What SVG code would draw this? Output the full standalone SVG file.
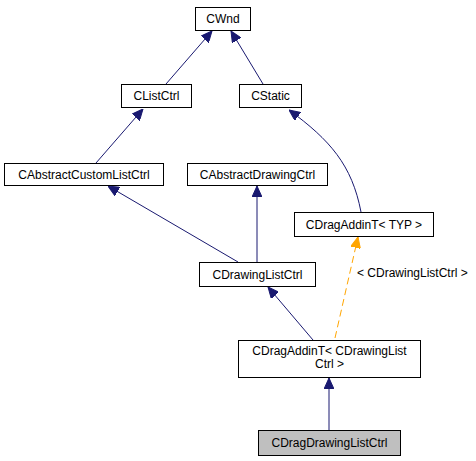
<svg xmlns="http://www.w3.org/2000/svg" width="476" height="461" viewBox="0 0 476 461">
<style>
.n rect{fill:#ffffff;stroke:#000000;stroke-width:1}
.n.cur rect{fill:#bfbfbf}
text{font-family:"Liberation Sans",Arial,sans-serif;font-size:12px;fill:#000000;text-anchor:middle}
.e{fill:none;stroke:#191970;stroke-width:1;marker-end:url(#ah)}
.t{fill:none;stroke:#ffa500;stroke-width:1;stroke-dasharray:7,4;marker-end:url(#ao)}
.lbl{text-anchor:start}
</style>
<defs>
<marker id="ah" markerUnits="userSpaceOnUse" markerWidth="11" markerHeight="10" refX="11" refY="5" orient="auto">
<path d="M0,0 L11,5 L0,10 z" fill="#191970" stroke="#191970" stroke-width="1"/>
</marker>
<marker id="ao" markerUnits="userSpaceOnUse" markerWidth="11" markerHeight="10" refX="11" refY="5" orient="auto">
<path d="M0,0 L11,5 L0,10 z" fill="#ffa500" stroke="#ffa500" stroke-width="1"/>
</marker>
</defs>
<rect width="476" height="461" fill="#ffffff"/>
<g id="connectors">
<path class="e" d="M166,84 L212,31"/>
<path class="e" d="M263,84 L231,31"/>
<path class="e" d="M96,163 L143,109"/>
<path class="e" d="M361,212 C352,165 330,140 289,110"/>
<path class="e" d="M238,262 L108,186"/>
<path class="e" d="M257,262 L257,186"/>
<path class="e" d="M313,340 L268,287"/>
<path class="t" d="M335,338 L358,237"/>
<path class="e" d="M329,430 L329,378"/>
<text class="lbl" x="357" y="277">&lt; CDrawingListCtrl &gt;</text>
</g>
<g id="CWnd" class="n"><rect x="195.5" y="7.5" width="55" height="23"/><text x="223" y="23">CWnd</text></g>
<g id="CListCtrl" class="n"><rect x="121.5" y="84.5" width="70" height="23"/><text x="156.5" y="100">CListCtrl</text></g>
<g id="CStatic" class="n"><rect x="239.5" y="84.5" width="62" height="23"/><text x="270.5" y="100">CStatic</text></g>
<g id="CAbstractCustomListCtrl" class="n"><rect x="4.5" y="163.5" width="159" height="22"/><text x="84" y="178.5">CAbstractCustomListCtrl</text></g>
<g id="CAbstractDrawingCtrl" class="n"><rect x="187.5" y="163.5" width="140" height="22"/><text x="257.5" y="178.5">CAbstractDrawingCtrl</text></g>
<g id="CDragAddinT_TYP" class="n"><rect x="294.5" y="212.5" width="139" height="24"/><text x="364" y="228.5">CDragAddinT&lt; TYP &gt;</text></g>
<g id="CDrawingListCtrl" class="n"><rect x="199.5" y="262.5" width="116" height="24"/><text x="257.5" y="278.5">CDrawingListCtrl</text></g>
<g id="CDragAddinT_CDrawingListCtrl" class="n"><rect x="238.5" y="340.5" width="182" height="37"/><text x="329.5" y="355">CDragAddinT&lt; CDrawingList</text><text x="329.5" y="368">Ctrl &gt;</text></g>
<g id="CDragDrawingListCtrl" class="n cur"><rect x="258.5" y="430.5" width="142" height="25"/><text x="329.5" y="447">CDragDrawingListCtrl</text></g>
</svg>
